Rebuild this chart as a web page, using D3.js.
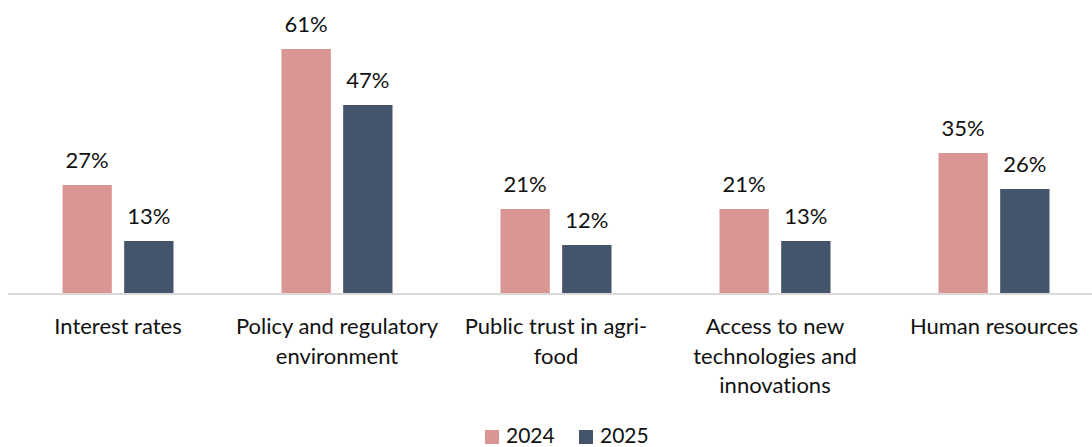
<!DOCTYPE html>
<html><head><meta charset="utf-8">
<script src="https://cdn.jsdelivr.net/npm/d3@7"></script>
<style>body{margin:0;background:#fff;overflow:hidden} text{font-variant-ligatures:none;font-feature-settings:"liga" 0,"clig" 0}</style>
</head><body>
<svg id="chart" width="1092" height="447"></svg>
<script>
const categories = ["Interest rates","Policy and regulatory environment","Public trust in agri-food","Access to new technologies and innovations","Human resources"];
const categoryLines = [["Interest rates"],["Policy and regulatory","environment"],["Public trust in agri-","food"],["Access to new","technologies and","innovations"],["Human resources"]];
const seriesNames = ["2024","2025"];
const values2024 = [27,61,21,21,35];
const values2025 = [13,47,12,13,26];
const colors = ["#D99694","#44546A"];

const svg = d3.select("#chart");
const font = "Lato, 'Noto Sans', sans-serif";
const fs = 22;
const x = d3.scaleBand().domain(categories).range([8.5,1103.5]).padding(0);
const inner = d3.scaleBand().domain(seriesNames).range([0,111]).paddingInner(0.2).paddingOuter(0);
const y = d3.scaleLinear().domain([0,70]).range([293,13]);
const series = [values2024, values2025];

const data = [];
categories.forEach((c,i)=>seriesNames.forEach((s,j)=>data.push({c,s,v:series[j][i],j})));

const g = svg.append("g");
g.selectAll("rect.bar").data(data).enter().append("rect")
  .attr("x",d=>x(d.c)+x.bandwidth()/2-55.5+inner(d.s))
  .attr("width",inner.bandwidth())
  .attr("y",d=>y(d.v))
  .attr("height",d=>y(0)-y(d.v))
  .attr("fill",d=>colors[d.j]);

g.selectAll("text.val").data(data).enter().append("text")
  .attr("x",d=>x(d.c)+x.bandwidth()/2-55.5+inner(d.s)+inner.bandwidth()/2)
  .attr("y",d=>y(d.v)-17)
  .attr("text-anchor","middle")
  .attr("font-family",font).attr("font-size",fs).attr("fill","#111")
  .text(d=>d.v+"%");

// baseline axis
svg.append("line").attr("x1",8).attr("x2",1092).attr("y1",y(0)+1).attr("y2",y(0)+1)
  .attr("stroke","#D9D9D9").attr("stroke-width",2);

// category labels
categories.forEach((c,i)=>{
  const t = svg.append("text").attr("text-anchor","middle")
    .attr("font-family",font).attr("font-size",fs).attr("fill","#111");
  categoryLines[i].forEach((ln,k)=>{
    t.append("tspan").attr("x",x(c)+x.bandwidth()/2).attr("y",334+k*29.5).text(ln);
  });
});

// legend
const legX = [485,579];
seriesNames.forEach((s,j)=>{
  svg.append("rect").attr("x",legX[j]).attr("y",430).attr("width",14).attr("height",14).attr("fill",colors[j]);
  svg.append("text").attr("x",legX[j]+21).attr("y",443)
    .attr("font-family",font).attr("font-size",21).attr("fill","#111").text(s);
});
</script>
</body></html>
